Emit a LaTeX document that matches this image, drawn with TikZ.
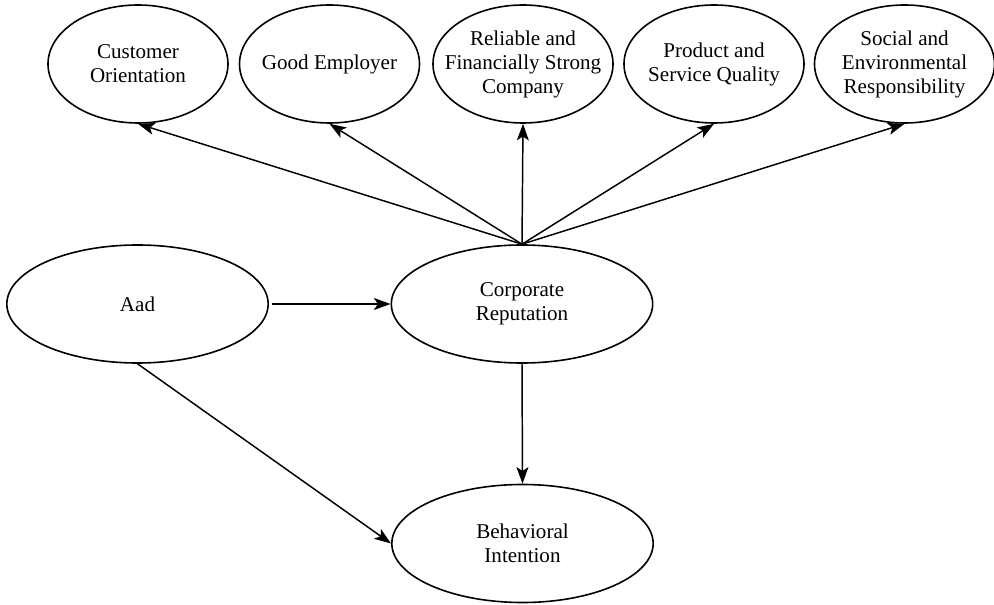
\documentclass[tikz,border=0pt]{standalone}
\usepackage{fontspec}
\setmainfont{Liberation Serif}
\usetikzlibrary{shapes.geometric,arrows.meta}
\begin{document}
\begin{tikzpicture}[x=0.75pt,y=-0.75pt,
  txt/.style={align=center,font=\fontsize{15.8}{18}\selectfont,inner sep=0pt},
  oval/.style={draw,ellipse,line width=1.2pt,inner sep=0pt},
  small/.style={oval,minimum width=135pt,minimum height=88.5pt},
  big/.style={oval,minimum width=196pt,minimum height=88.5pt},
  arr/.style={line width=1.1pt,-{Stealth[length=12.5pt,width=9pt,inset=3pt]}}]
\useasboundingbox (0,0) rectangle (994,605);
\node[small,label={[txt]center:Customer\\Orientation}] (co) at (138,64) {};
\node[small,label={[txt]center:Good Employer}] (ge) at (329.5,64) {};
\node[small,label={[txt]center:Reliable and\\Financially Strong\\Company}] (rf) at (523,64) {};
\node[small,label={[txt]center:Product and\\Service Quality}] (ps) at (714,64) {};
\node[small,label={[txt]center:Social and\\Environmental\\Responsibility}] (se) at (904.5,64) {};
\node[big,label={[txt]center:Aad}] (aad) at (137.5,304) {};
\node[big,label={[txt]center:Corporate\\Reputation}] (cr) at (522,304) {};
\node[big,label={[txt]center:Behavioral\\Intention}] (bi) at (522.5,543.5) {};
\foreach \t in {co,ge,rf,ps,se} \draw[arr] (cr.north) -- (\t.south);
\draw[arr,shorten <=2pt] (aad.east) -- (cr.west);
\draw[arr] (aad.south) -- (bi.west);
\draw[arr] (cr.south) -- (bi.north);
\end{tikzpicture}
\end{document}
